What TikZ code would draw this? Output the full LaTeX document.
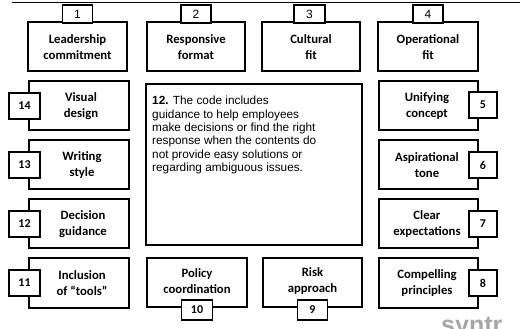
\documentclass[tikz,border=0pt]{standalone}
\usepackage{fontspec}
\setmainfont{Liberation Sans}
\newfontfamily\lblfont{Carlito}
\begin{document}
\begin{tikzpicture}[x=1pt,y=-1pt,
  card/.style={draw=black,line width=2pt,fill=white},
  numbox/.style={draw=black,line width=1.8pt,fill=white,inner sep=0pt},
  lbl/.style={font=\lblfont\bfseries\fontsize{12.7}{15.7}\selectfont,align=center,inner sep=0pt},
  numa/.style={font=\fontsize{12}{14}\selectfont},
  numb/.style={font=\lblfont\bfseries\fontsize{12}{14}\selectfont},
]
\useasboundingbox (0,0) rectangle (522,329);
\clip (0,0) rectangle (522,329);

% rule along the top
\coordinate (ruleL) at (12,2);
\coordinate (ruleR) at (520,2);
\draw[line width=0.9pt] (ruleL) -- (ruleR);

% top row
\draw[card] (28,22) rectangle (127,71);
\node[lbl] (t1) at (77.5,47) {Leadership\\commitment};
\draw[numbox] (62.5,5) rectangle (92.5,23);
\node[numa] (n1) at (77.5,14) {1};

\draw[card] (147,22) rectangle (245,71);
\node[lbl] (t2) at (196,47) {Responsive\\format};
\draw[numbox] (181,5) rectangle (211,23);
\node[numa] (n2) at (196,14) {2};

\draw[card] (262,22) rectangle (360,71);
\node[lbl] (t3) at (311,47) {Cultural\\fit};
\draw[numbox] (294,5) rectangle (325,23);
\node[numa] (n3) at (309.5,14) {3};

\draw[card] (378,22) rectangle (478,71);
\node[lbl] (t4) at (428,47) {Operational\\fit};
\draw[numbox] (413,5) rectangle (443,23);
\node[numa] (n4) at (428,14) {4};

% left column
\draw[card] (29,81) rectangle (129,130);
\node[lbl] (t14) at (81,106) {Visual\\design};
\draw[numbox] (9,93) rectangle (40,119);
\node[numb] (n14) at (24.5,106) {14};

\draw[card] (29,140) rectangle (129,189);
\node[lbl] (t13) at (82,165) {Writing\\style};
\draw[numbox] (9,152) rectangle (40,178);
\node[numb] (n13) at (24.5,165) {13};

\draw[card] (29,199) rectangle (129,248);
\node[lbl] (t12) at (83,224) {Decision\\guidance};
\draw[numbox] (9,211) rectangle (40,237);
\node[numb] (n12) at (24.5,224) {12};

\draw[card] (29,258) rectangle (129,308);
\node[lbl] (t11) at (82,283) {Inclusion\\of \textquotedblleft tools\textquotedblright};
\draw[numbox] (9,270) rectangle (40,296);
\node[numb] (n11) at (24.5,283) {11};

% right column
\draw[card] (379,81) rectangle (478,130);
\node[lbl] (t5) at (427,106) {Unifying\\concept};
\draw[numbox] (469,92) rectangle (497,118);
\node[numb] (n5) at (483,105) {5};

\draw[card] (379,140) rectangle (478,189);
\node[lbl] (t6) at (427,165) {Aspirational\\tone};
\draw[numbox] (469,152) rectangle (497,178);
\node[numb] (n6) at (483,165) {6};

\draw[card] (379,199) rectangle (478,248);
\node[lbl] (t7) at (427,224) {Clear\\expectations};
\draw[numbox] (469,211) rectangle (497,237);
\node[numb] (n7) at (483,224) {7};

\draw[card] (379,258) rectangle (478,308);
\node[lbl] (t8) at (427,283) {Compelling\\principles};
\draw[numbox] (469,270) rectangle (497,296);
\node[numb] (n8) at (483,283) {8};

% description panel
\draw[card] (146,84) rectangle (362,245);
\node[anchor=north west,inner sep=0pt,align=left,
  font=\fontsize{11.8}{13.4}\selectfont] (desc) at (152,96)
  {\textbf{12.} The code includes\\
   guidance to help employees\\
   make decisions or find the right\\
   response when the contents do\\
   not provide easy solutions or\\
   regarding ambiguous issues.};

% bottom row
\draw[card] (147,258) rectangle (247,307);
\node[lbl] (t10) at (197,281) {Policy\\coordination};
\draw[numbox] (181.5,300) rectangle (212.5,320);
\node[numb] (n10) at (197,310) {10};

\draw[card] (263,258) rectangle (362,307);
\node[lbl] (t9) at (312.5,281) {Risk\\approach};
\draw[numbox] (297.5,300) rectangle (327.5,320);
\node[numb] (n9) at (312.5,310) {9};

% partly visible mark in the corner
\node[anchor=north west,inner sep=0pt,text=black!35,
  font=\bfseries\fontsize{25}{28}\selectfont] (mark) at (441,317) {syntr};
\end{tikzpicture}
\end{document}
